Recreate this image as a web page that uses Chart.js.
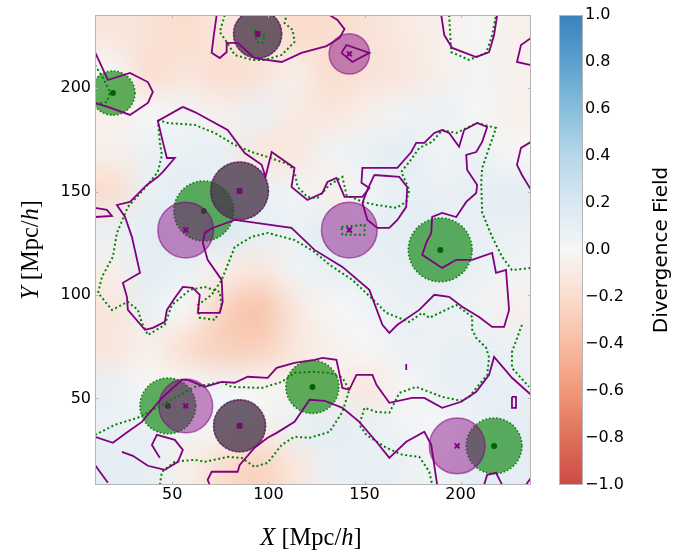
<!DOCTYPE html>
<html>
<head>
<meta charset="utf-8">
<script src="https://cdn.jsdelivr.net/npm/chart.js@4.4.1/dist/chart.umd.min.js"></script>
<style>
  html, body { margin: 0; padding: 0; background: #fff; }
</style>
</head>
<body>
<canvas id="chart" width="673" height="554"></canvas>
<script>
// axis ticks
const xTicks = [50, 100, 150, 200];
const yTicks = [50, 100, 150, 200];
const cbTicks = [-1, -0.8, -0.6, -0.4, -0.2, 0, 0.2, 0.4, 0.6, 0.8, 1];

// colour scale of the divergence field
const cbLevels = [-1, -0.8, -0.6, -0.4, -0.2, 0, 0.2, 0.4, 0.6, 0.8, 1];
const cbColors = [
  [205, 74, 68], [222, 112, 90], [240, 152, 122], [248, 188, 162], [250, 221, 206],
  [246, 246, 246], [216, 232, 242], [182, 215, 233], [136, 190, 220], [92, 160, 205], [56, 130, 190]
];

// coarse divergence field, rows from top (y high) to bottom
const fieldX = [9.8, 236.6];
const fieldY = [8.2, 235.3];
const field = [
  [-0.13, -0.16, -0.20, -0.13, -0.13, -0.20, -0.20, -0.16, -0.10, -0.06, 0.00, -0.06],
  [0.00, -0.20, -0.13, -0.20, -0.16, -0.06, -0.20, -0.16, -0.13, -0.06, 0.04, -0.04],
  [-0.06, 0.00, 0.04, -0.06, 0.08, -0.10, -0.13, -0.06, 0.04, 0.08, 0.00, -0.06],
  [-0.06, 0.08, 0.08, 0.10, -0.13, -0.13, 0.04, 0.08, 0.13, 0.04, 0.08, 0.00],
  [-0.20, 0.08, 0.13, 0.08, 0.08, 0.04, -0.06, 0.04, 0.10, 0.08, 0.10, 0.13],
  [0.08, 0.13, 0.13, 0.20, 0.10, 0.08, 0.13, 0.10, 0.13, 0.13, 0.10, 0.08],
  [-0.06, 0.13, 0.08, -0.06, -0.13, 0.04, 0.10, 0.08, 0.10, 0.13, 0.08, 0.04],
  [-0.13, 0.08, 0.00, -0.26, -0.36, -0.13, 0.00, 0.04, 0.08, 0.08, 0.04, -0.06],
  [-0.13, -0.06, -0.20, -0.28, -0.28, -0.13, -0.06, 0.00, 0.08, 0.08, 0.10, 0.08],
  [0.08, 0.00, 0.00, 0.04, 0.00, -0.06, -0.06, -0.13, 0.00, 0.08, 0.10, 0.08],
  [0.08, 0.08, 0.04, 0.00, -0.06, 0.08, 0.13, 0.08, 0.04, 0.00, 0.08, 0.13],
  [0.13, 0.10, -0.06, -0.20, -0.26, -0.13, 0.08, 0.10, 0.08, 0.04, 0.13, 0.13]
];

// voids (green) and clusters (purple): centre and radius in Mpc/h
const greenX = [19.1, 66.4, 189.4, 122.9, 217.4, 47.7, 94.4, 85.0, 85.0];
const greenY = [197.6, 140.6, 121.8, 55.6, 27.1, 46.4, 226.1, 150.3, 36.8];
const greenR = [11.5, 15.6, 16.6, 13.8, 14.5, 14.5, 12.5, 15.0, 13.5];
const purpleX = [142.1, 57.0, 142.1, 57.0, 198.2, 94.4, 85.0, 85.0];
const purpleY = [216.5, 131.4, 131.4, 46.4, 27.1, 226.1, 150.3, 36.8];
const purpleR = [10.5, 14.5, 14.5, 14.0, 14.5, 12.5, 15.0, 13.5];

// contour lines
const purpleContours = [
  [[9.8,217.4],[16.5,203.9],[28,207.3],[37.3,202.9],[39.9,198.1],[37.3,192.8],[28,187],[16.5,190.9],[9.8,192.8]],
  [[73.1,235.3],[71.6,225.6],[70.5,217],[74.7,214.5],[78.3,217.4],[78.3,221.8],[84,221.8],[92.8,214.5],[106.9,212.6],[117.2,217],[130.2,220.3],[137,224.2],[139.6,228.5],[135.9,232.9],[131.8,235.3]],
  [[138,217],[140.6,220.8],[152.5,217],[143.7,212.6],[138,217]],
  [[189.9,235.3],[191.5,225.6],[195.6,219.4],[208.1,215],[214.8,217.4],[217.4,225.6],[219,235.3]],
  [[236.6,224.2],[231.4,220.8],[229.3,212.6],[236.6,211.1]],
  [[9.8,142.1],[16,141.1],[18.6,138.2],[9.8,137.7]],
  [[55.5,190.9],[61.7,188.4],[78.8,179.7],[87.7,168.6],[96.5,162.9],[98.5,157.1],[101.7,169.1],[113.6,161.4],[112,152.2],[120.3,145.9],[128.1,149.3],[130.7,154.6],[135.4,156.6],[139.6,147.4],[148.9,147.4],[152.5,151.7],[148.4,154.2],[148.9,161.4],[154.1,161.4],[167.1,161.4],[174.3,169.1],[176.9,173.5],[181.1,173.5],[186.3,178.3],[190.4,179.7],[194,178.3],[199.2,171.6],[201.8,179.7],[208.6,183.1],[213.8,181.2],[211.2,174],[208.1,169.1],[202.9,167.7],[203.4,160.4],[208.6,153.2],[208.1,149.3],[202.9,145],[197.7,137.7],[190.4,139.7],[185.2,137.7],[184.7,130],[182.1,125.2],[180,119.4],[190.4,113.1],[197.7,117],[206,117],[216.4,120.3],[218.4,110.7],[223.6,112.1],[225.2,92.8],[222.6,84.6],[216.4,84.6],[209.6,89.4],[200.8,94.3],[194,99.1],[186.3,100.1],[178.5,92.8],[167.1,85.6],[162.9,81.7],[159.3,85.6],[152.5,102.5],[138.5,113.6],[124,121.8],[112,132.4],[82.5,136.3],[71,132.4],[66.9,130],[65.9,125.2],[68.4,117],[75.7,107.3],[76.2,96.7],[74.7,91.4],[63.3,91.4],[64.3,100.1],[60.7,103.4],[55.5,103.9],[51.3,98.6],[47.2,92.8],[46.1,87],[39.9,84.1],[35.8,83.2],[26.9,92.8],[26.4,99.1],[24.3,105.9],[33.2,110.7],[29,128.1],[25.4,137.7],[21.2,143.5],[28,145],[36.8,153.2],[42.5,157.1],[45.1,159.5],[51.3,166.2],[47.2,166.2],[45.1,174],[42.5,184.1],[55.5,190.9]],
  [[155.1,158],[168.1,157.1],[172.2,152.2],[171.7,142.6],[167.1,136.3],[162.9,132.4],[156.7,132.4],[151.5,136.3],[148.9,144.5],[151.5,150.8],[155.1,158]],
  [[236.6,174],[231.4,171.1],[229.3,162.9],[231.9,158],[236.6,150.8]],
  [[9.8,31.5],[19.1,28.6],[26.9,33.9],[34.2,38.7],[44.6,50.3],[55,59],[58.1,59],[66.9,55.6],[75.7,58],[82.5,57.6],[89.2,60.5],[99.6,60],[104.3,64.8],[113.6,67.2],[124,68.7],[128.1,69.6],[135.4,68.7],[138.5,55.1],[142.1,54.2],[145.8,61.4],[154.1,61.4],[156.2,56.6],[162.9,47.9],[174.8,50.3],[181.1,50.3],[190.4,45.5],[200.3,48.4],[208.1,53.2],[214.8,61.4],[217.4,70.1],[226.7,60],[236.6,51.8]],
  [[69.5,8.3],[68.4,10.7],[70.5,14.6],[84,14.6],[85.1,17.9],[92.8,26.2],[99.6,31],[104.3,33.4],[113.6,38.7],[121.4,49.4],[129.2,48.9],[138.5,45.5],[147.3,38.7],[156.2,29.1],[162.9,21.3],[171.7,29.1],[181.1,33.9],[184.7,27.6],[187.8,8.3]],
  [[23.8,24.2],[29.5,22.3],[37.3,17.5],[46.1,15.5],[52.9,19.4],[55.5,25.2],[51.3,30],[42,32.4],[39.4,27.6],[43.5,21.3]],
  [[9.8,17.9],[16.5,9.3]],
  [[212.2,8.3],[213.8,13.1],[218.4,14.1],[221.6,8.3]],
  [[236.6,11.7],[234,8.3]],
  [[226.7,50.8],[228.8,50.8],[228.8,45.5],[226.7,45.5],[226.7,50.8]],
  [[171.7,66.7],[171.7,63.8]]
];
const greenContours = [
  [[9.8,211.1],[14,204.9],[17.6,198.1],[16,193.3],[9.8,192.3]],
  [[77.3,235.3],[74.7,227.1],[78.3,222.3],[82.5,216],[91.3,213.6],[98,213.6],[106.9,216],[113.6,222.3],[112.6,228.1],[108.4,231.4],[109.5,235.3]],
  [[92.8,228.1],[98,225.6],[97,221.8],[93.9,222.3],[92.8,228.1]],
  [[138,132.9],[150,133.9],[150,129.1],[138.5,129.1],[138,132.9]],
  [[194,235.3],[195.1,217.4],[204.4,213.6],[213.3,217],[216.4,225.6],[218.4,235.3]],
  [[42.5,184.6],[47.7,183.1],[61.7,182.2],[72.1,178.3],[82.5,172.5],[91.3,169.1],[99.6,166.7],[111,162.9],[113.6,159.5],[115.2,152.2],[120.3,147.4],[125.5,146.9],[131.8,153.2],[138.5,157.1],[140.6,148.4],[148.9,145],[156.2,143.5],[166.5,142.1],[171.7,145],[173.3,150.8],[169.1,159.5],[173.3,164.3],[178.5,171.1],[185.2,174],[190.4,179.7],[197.7,178.3],[208.6,183.1],[218.4,180.7],[214.8,171.1],[211.2,161.4],[210.7,154.2],[211.2,139.7],[216.4,128.1],[221.6,118.4],[226.7,112.1],[236.6,113.1]],
  [[42.5,184.6],[43.5,174],[44.6,167.7],[42.5,159.5],[35.8,151.7],[26.9,142.6],[21.2,130],[19.1,118.4],[13.4,108.8],[11.4,101],[18.6,92.8],[26.9,96.7],[32.1,92.8],[34.2,86.5],[37.3,80.7],[46.1,85.6],[49.8,95.2],[59.1,102.5],[66.9,103.9],[74.7,101.5],[75.7,94.3],[72.1,88],[64.3,89],[63.3,95.2],[70.5,100.1],[75.7,107.3],[82.5,123.2],[91.3,128.1],[99.6,130],[113.6,126.6],[124,120.8],[131.8,114.6],[143.7,107.3],[156.2,96.2],[161.3,91.4],[173.3,87],[180,91.4],[183.7,89],[197.7,95.2],[206,89.4],[206,83.2],[208.1,79.3],[213.3,74.5],[214.8,69.6],[213.8,61.4],[204.4,50.8],[200.3,48.9],[190.4,50.8],[176.9,55.6],[168.1,52.7],[162.9,43.1],[156.2,43.5],[150,45.5],[147.3,37.3],[151,32.4],[161.3,26.2],[169.7,22.8],[178.5,21.8],[183.7,14.6],[185.2,8.3]],
  [[231.9,85.6],[226.7,72.5],[226.7,64.8],[235.6,55.6]],
  [[9.8,32.4],[20.2,37.3],[32.1,40.7],[44.6,46.9],[61.7,55.6],[75.7,58],[80.9,55.6],[96.5,55.1],[106.9,58],[113.6,62.4],[124,62.9],[131.8,62.4],[138.5,60],[142.1,54.2],[138.5,43.5],[131.8,33.9],[121.4,31],[113.6,31.5],[106.9,27.6],[99.6,18.9],[92.8,17],[86.1,21.3],[78.8,21.8],[66.9,19.4],[61.7,20.4],[51.3,19.4],[44.6,14.6],[43.5,8.3]]
];

const xTitle = [['X', true], [' [Mpc/', false], ['h', true], [']', false]];
const yTitle = [['Y', true], [' [Mpc/', false], ['h', true], [']', false]];
const cbTitle = 'Divergence Field';

function divColor(v) {
  v = Math.max(cbLevels[0], Math.min(cbLevels[cbLevels.length - 1], v));
  for (let k = 1; k < cbLevels.length; k++) {
    if (v <= cbLevels[k]) {
      const t = (v - cbLevels[k - 1]) / (cbLevels[k] - cbLevels[k - 1]);
      const a = cbColors[k - 1], b = cbColors[k];
      return a.map((c, i) => Math.round(c + (b[i] - c) * t));
    }
  }
  return cbColors[cbColors.length - 1];
}

function fmtTick(v) {
  const s = Math.abs(v).toFixed(1);
  return v < 0 ? '\u2212' + s : s;
}

function radiusPx(ctx) {
  const s = ctx.chart.scales.x;
  return Math.abs(s.getPixelForValue(ctx.raw.r) - s.getPixelForValue(0));
}

function drawMixed(ctx, parts, size) {
  let w = 0;
  parts.forEach(([t, it]) => {
    ctx.font = (it ? 'italic ' : '') + size + 'px "Liberation Serif"';
    w += ctx.measureText(t).width;
  });
  let x = -w / 2;
  parts.forEach(([t, it]) => {
    ctx.font = (it ? 'italic ' : '') + size + 'px "Liberation Serif"';
    ctx.fillText(t, x, 0);
    x += ctx.measureText(t).width;
  });
}

// vertical axes: keep the plot box fixed, no extra room for the end labels
function fixWidth(w) {
  return s => { s.width = w; s.paddingTop = 0; s.paddingBottom = 0; };
}

// smooth image of the field under the data
const fieldPlugin = {
  id: 'field',
  beforeDatasetsDraw(chart) {
    const { ctx, chartArea, scales } = chart;
    const ny = field.length, nx = field[0].length;
    const off = document.createElement('canvas');
    off.width = nx; off.height = ny;
    const octx = off.getContext('2d');
    const img = octx.createImageData(nx, ny);
    for (let j = 0; j < ny; j++) {
      for (let i = 0; i < nx; i++) {
        const c = divColor(field[j][i]);
        const k = (j * nx + i) * 4;
        img.data[k] = c[0]; img.data[k + 1] = c[1]; img.data[k + 2] = c[2]; img.data[k + 3] = 255;
      }
    }
    octx.putImageData(img, 0, 0);
    const l = scales.x.getPixelForValue(fieldX[0]), r = scales.x.getPixelForValue(fieldX[1]);
    const t = scales.y.getPixelForValue(fieldY[1]), b = scales.y.getPixelForValue(fieldY[0]);
    ctx.save();
    ctx.beginPath();
    ctx.rect(chartArea.left, chartArea.top, chartArea.width, chartArea.height);
    ctx.clip();
    ctx.imageSmoothingEnabled = true;
    ctx.imageSmoothingQuality = 'high';
    ctx.drawImage(off, l, t, r - l, b - t);
    ctx.restore();
  },
  beforeDatasetDraw(chart, args) {
    const ds = chart.data.datasets[args.index];
    if (ds.pointDash) {
      chart.ctx.save();
      chart.ctx.setLineDash(ds.pointDash);
    }
  },
  afterDatasetDraw(chart, args) {
    if (chart.data.datasets[args.index].pointDash) chart.ctx.restore();
  },
  afterDatasetsDraw(chart) {
    const { ctx, chartArea: a, scales } = chart;
    ctx.save();
    ctx.strokeStyle = '#b5b5b5';
    ctx.lineWidth = 1;
    ctx.strokeRect(a.left + 0.5, a.top + 0.5, a.width - 1, a.height - 1);
    ctx.beginPath();
    xTicks.forEach(v => {
      const p = Math.round(scales.x.getPixelForValue(v)) + 0.5;
      ctx.moveTo(p, a.bottom); ctx.lineTo(p, a.bottom - 3);
      ctx.moveTo(p, a.top); ctx.lineTo(p, a.top + 3);
    });
    yTicks.forEach(v => {
      const p = Math.round(scales.y.getPixelForValue(v)) + 0.5;
      ctx.moveTo(a.left, p); ctx.lineTo(a.left + 3, p);
      ctx.moveTo(a.right, p); ctx.lineTo(a.right - 3, p);
    });
    ctx.stroke();
    ctx.restore();
  },
  afterDraw(chart) {
    const { ctx, chartArea: a, scales } = chart;
    const cb = scales.cb;
    const x0 = cb.left + 28, w = 24;
    const top = cb.getPixelForValue(1), bottom = cb.getPixelForValue(-1);
    ctx.save();
    for (let py = Math.floor(top); py < bottom; py++) {
      const c = divColor(cb.getValueForPixel(py + 0.5));
      ctx.fillStyle = `rgb(${c[0]},${c[1]},${c[2]})`;
      ctx.fillRect(x0, py, w, 1);
    }
    ctx.strokeStyle = '#b5b5b5';
    ctx.strokeRect(x0 + 0.5, top + 0.5, w - 1, bottom - top - 1);

    ctx.fillStyle = '#000';
    ctx.textBaseline = 'middle';
    ctx.textAlign = 'left';
    ctx.save();
    ctx.translate(662, (top + bottom) / 2);
    ctx.rotate(-Math.PI / 2);
    ctx.font = '20px "DejaVu Sans"';
    ctx.textAlign = 'center';
    ctx.fillText(cbTitle, 0, 0);
    ctx.restore();

    ctx.save();
    ctx.translate((a.left + a.right) / 2 - 2, 539);
    drawMixed(ctx, xTitle, 24.5);
    ctx.restore();

    ctx.save();
    ctx.translate(32, (a.top + a.bottom) / 2);
    ctx.rotate(-Math.PI / 2);
    drawMixed(ctx, yTitle, 24.5);
    ctx.restore();
    ctx.restore();
  }
};

const datasets = [];
purpleContours.forEach(line => datasets.push({
  type: 'scatter', showLine: true, order: 3,
  data: line.map(([x, y]) => ({ x, y })),
  borderColor: '#800080', borderWidth: 1.8, pointRadius: 0, tension: 0, fill: false
}));
greenContours.forEach(line => datasets.push({
  type: 'scatter', showLine: true, order: 3,
  data: line.map(([x, y]) => ({ x, y })),
  borderColor: '#008000', borderWidth: 2, borderDash: [2, 2.6], pointRadius: 0, tension: 0, fill: false
}));
datasets.push({
  type: 'scatter', order: 6, pointDash: [1.6, 2],
  data: greenX.map((x, i) => ({ x, y: greenY[i], r: greenR[i] })),
  pointRadius: radiusPx, backgroundColor: 'rgba(0,128,0,0.62)',
  borderColor: 'rgba(0,120,0,0.9)', borderWidth: 1.6
});
datasets.push({
  type: 'scatter', order: 5,
  data: greenX.map((x, i) => ({ x, y: greenY[i] })),
  pointRadius: 3, backgroundColor: '#006400', borderWidth: 0
});
datasets.push({
  type: 'scatter', order: 4,
  data: purpleX.map((x, i) => ({ x, y: purpleY[i], r: purpleR[i] })),
  pointRadius: radiusPx, backgroundColor: 'rgba(128,0,128,0.45)',
  borderColor: 'rgba(128,0,128,0.55)', borderWidth: 1.5
});
datasets.push({
  type: 'scatter', order: 2,
  data: purpleX.map((x, i) => ({ x, y: purpleY[i] })),
  pointStyle: 'crossRot', pointRadius: 3.5, borderColor: '#800080', borderWidth: 2
});

const tickFont = { family: 'DejaVu Sans', size: 16 };
const noGrid = { display: false, drawTicks: false };

new Chart(document.getElementById('chart'), {
  type: 'scatter',
  data: { datasets },
  plugins: [fieldPlugin],
  options: {
    responsive: false,
    devicePixelRatio: 1,
    animation: false,
    events: [],
    layout: { padding: { top: 15, left: 0, right: 0, bottom: 0 } },
    plugins: { legend: { display: false }, tooltip: { enabled: false } },
    scales: {
      x: {
        type: 'linear', min: 9.8, max: 236.6,
        grid: noGrid, border: { display: false },
        afterBuildTicks: s => { s.ticks = xTicks.map(v => ({ value: v })); },
        afterFit: s => { s.height = 69; s.paddingLeft = 0; s.paddingRight = 0; },
        ticks: { font: tickFont, color: '#000', padding: 0, maxRotation: 0 }
      },
      y: {
        type: 'linear', min: 8.2, max: 235.3,
        grid: noGrid, border: { display: false },
        afterBuildTicks: s => { s.ticks = yTicks.map(v => ({ value: v })); },
        afterFit: fixWidth(95),
        ticks: { font: tickFont, color: '#000', padding: 4 }
      },
      cb: {
        type: 'linear', position: 'right', min: -1, max: 1,
        grid: noGrid, border: { display: false },
        afterBuildTicks: s => { s.ticks = cbTicks.map(v => ({ value: v })); },
        afterFit: fixWidth(142),
        ticks: { font: tickFont, color: '#000', padding: 54, callback: v => fmtTick(v) }
      }
    }
  }
});
</script>
</body>
</html>
